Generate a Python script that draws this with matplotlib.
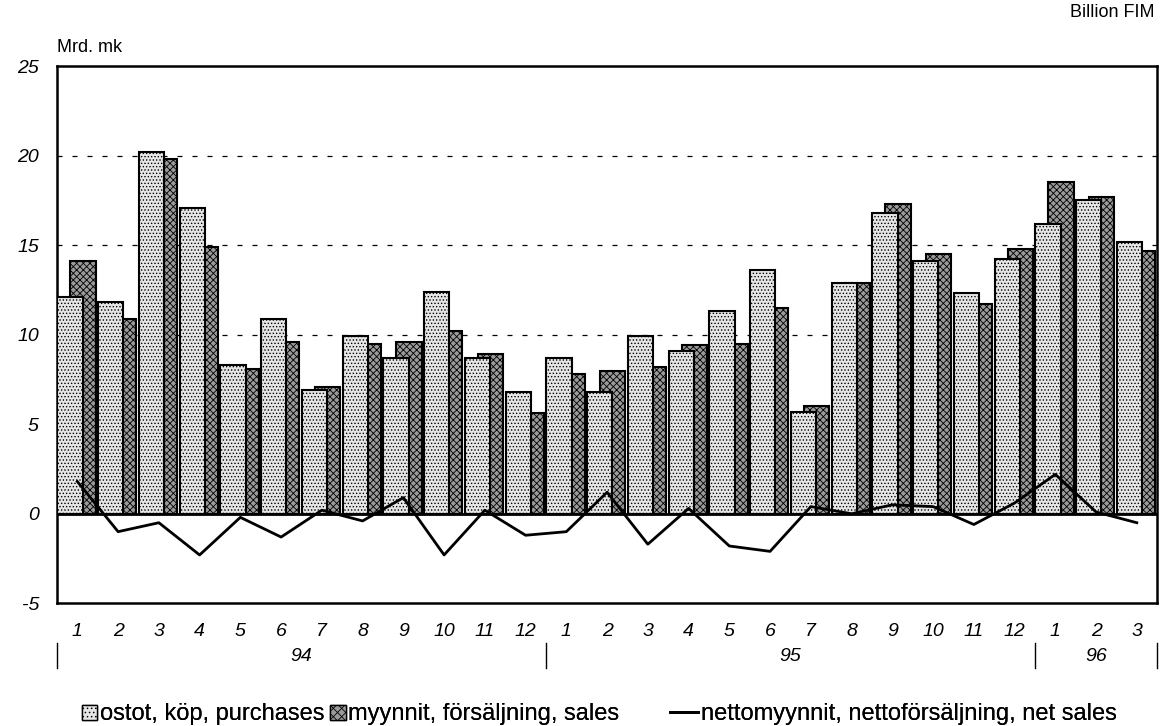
import matplotlib.pyplot as plt
import numpy as np
from matplotlib.patches import Patch
from matplotlib.lines import Line2D

plt.rcParams['font.family'] = ['Liberation Sans', 'DejaVu Sans']
plt.rcParams['hatch.linewidth'] = 0.6

# monthly data, billion FIM, 1994-01 .. 1996-03
months = ['1', '2', '3', '4', '5', '6', '7', '8', '9', '10', '11', '12',
          '1', '2', '3', '4', '5', '6', '7', '8', '9', '10', '11', '12',
          '1', '2', '3']
years = ['94', '95', '96']
year_len = [12, 12, 3]

purchases = [12.1, 11.8, 20.2, 17.1, 8.3, 10.9, 6.9, 9.9, 8.7, 12.4, 8.7, 6.8,
             8.7, 6.8, 9.9, 9.1, 11.3, 13.6, 5.7, 12.9, 16.8, 14.1, 12.3, 14.2,
             16.2, 17.5, 15.2]
sales = [14.1, 10.9, 19.8, 14.9, 8.1, 9.6, 7.1, 9.5, 9.6, 10.2, 8.9, 5.6,
         7.8, 8.0, 8.2, 9.4, 9.5, 11.5, 6.0, 12.9, 17.3, 14.5, 11.7, 14.8,
         18.5, 17.7, 14.7]
net_sales = [1.8, -1.0, -0.5, -2.3, -0.2, -1.3, 0.2, -0.4, 0.9, -2.3, 0.2, -1.2,
             -1.0, 1.2, -1.7, 0.3, -1.8, -2.1, 0.4, 0.0, 0.5, 0.4, -0.6, 0.6,
             2.2, 0.1, -0.5]

x = np.arange(len(months))

fig = plt.figure(figsize=(11.63, 7.26), dpi=100)
ax = fig.add_axes([0.049, 0.169, 0.946, 0.740])

# sales behind, purchases in front
ax.bar(x + 0.14, sales, width=0.62, facecolor='#9a9a9a', edgecolor='black',
       hatch='xxxxx', linewidth=1.5, zorder=2)
ax.bar(x - 0.18, purchases, width=0.62, facecolor='#e6e6e6', edgecolor='black',
       hatch='.....', linewidth=1.5, zorder=3)
ax.plot(x, net_sales, color='black', linewidth=2, zorder=4)
ax.axhline(0, color='black', linewidth=2, zorder=5)

ax.set_xlim(-0.5, len(months) - 0.5)
ax.set_ylim(-5, 25)
ax.set_yticks([-5, 0, 5, 10, 15, 20, 25])
ax.set_yticklabels(['-5', '0', '5', '10', '15', '20', '25'], fontstyle='italic', fontsize=14)
for yv in [10, 15, 20]:
    ax.axhline(yv, color='black', linewidth=0.9, linestyle=(0, (4, 8)), zorder=1)
ax.tick_params(axis='y', length=0, pad=13)
ax.set_xticks([])
for s in ax.spines.values():
    s.set_linewidth(1.8)

# month and year labels below the axis
for i, m in enumerate(months):
    ax.text(i, -6.55, m, ha='center', va='center', fontstyle='italic', fontsize=14)
start = 0
bounds = [0]
for yr, n in zip(years, year_len):
    ax.text(start + n / 2 - 0.5, -7.95, yr, ha='center', va='center', fontstyle='italic', fontsize=14)
    start += n
    bounds.append(start)
for b in bounds:
    ax.plot([b - 0.5, b - 0.5], [-7.2, -8.6], color='black', linewidth=1, clip_on=False)

fig.text(0.049, 0.935, 'Mrd. mk', fontsize=13, ha='left', va='center')
fig.text(0.993, 0.983, 'Billion FIM', fontsize=13, ha='right', va='center')

handles = [Patch(facecolor='#e6e6e6', edgecolor='black', hatch='....', linewidth=1),
           Patch(facecolor='#9a9a9a', edgecolor='black', hatch='xxxx', linewidth=1),
           Line2D([0], [0], color='black', linewidth=2)]
labels = ['ostot, köp, purchases', 'myynnit, försäljning, sales',
          'nettomyynnit, nettoförsäljning, net sales']
legend_x = [0.0705, 0.284, 0.576]
handle_len = [0.65, 0.65, 1.2]
for h, lab, lx, hl in zip(handles, labels, legend_x, handle_len):
    leg = fig.legend([h], [lab], loc='center left', bbox_to_anchor=(lx, 0.016),
                     frameon=False, fontsize=17, handlelength=hl, handleheight=0.6,
                     handletextpad=0.1, borderpad=0, borderaxespad=0)
    fig.add_artist(leg)

fig.savefig('out.png', dpi=100)
